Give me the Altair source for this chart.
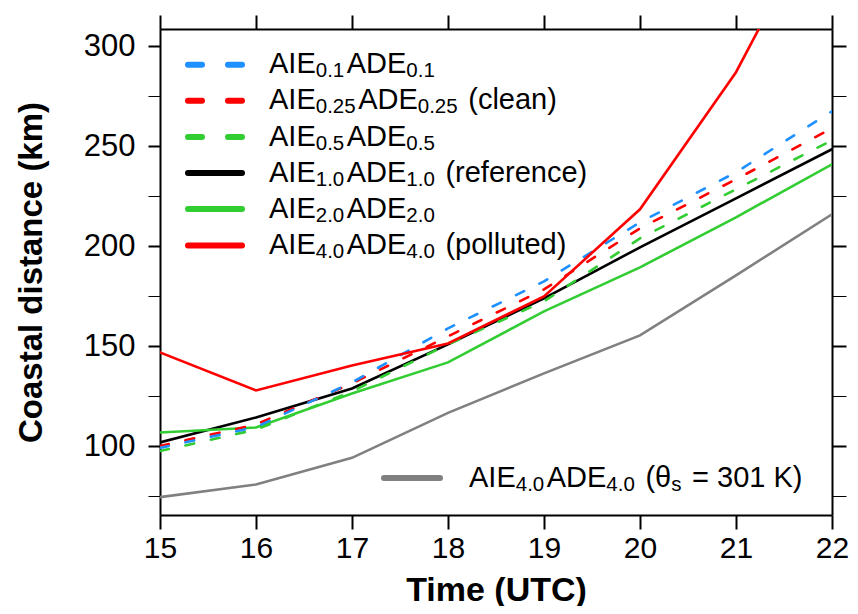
import altair as alt
import pandas as pd

# ---------------- data ----------------
hours = [15, 16, 17, 18, 19, 20, 21, 22]
aie01 = [99.3, 109.7, 132.0, 159.0, 182.5, 212.0, 237.0, 267.5]
aie025 = [100.2, 111.0, 131.5, 155.0, 178.5, 209.0, 233.5, 259.0]
aie05 = [97.7, 108.4, 127.5, 151.0, 172.5, 204.0, 228.5, 253.0]
aie10 = [102.0, 114.5, 129.0, 151.0, 174.0, 199.5, 224.0, 248.5]
aie20 = [107.0, 109.5, 126.5, 142.0, 167.5, 189.5, 214.5, 241.0]
aie40 = [147.0, 128.0, 140.5, 151.5, 175.0, 218.5, 287.0, 378.0]
aie40_301 = [74.7, 81.0, 94.3, 116.8, 136.5, 155.5, 185.5, 216.0]

y_ticks = [75, 100, 125, 150, 175, 200, 225, 250, 275, 300]

# ---------------- layout ----------------
W, H = 672, 486
XDOM = [15, 22]
YDOM = [65.75, 308.6]
FONT = "Liberation Sans"


def px2x(px):
    return XDOM[0] + px / W * (XDOM[1] - XDOM[0])


def py2y(py):
    return YDOM[1] - py / H * (YDOM[1] - YDOM[0])


ARIAL = {'A': .667, 'I': .278, 'E': .667, 'D': .722, '.': .278, ' ': .278,
         '(': .333, ')': .333, 'c': .5, 'l': .222, 'e': .556, 'a': .556,
         'n': .556, 'r': .333, 'f': .278, 'p': .556, 'o': .556, 'u': .556,
         't': .278, 'd': .556, '=': .584, 'K': .667, 'θ': .556, 's': .5}
for d in "0123456789":
    ARIAL[d] = .556


def tw(s, size):
    return sum(ARIAL.get(c, .556) for c in s) * size


MAIN, SUB, SUB_GAP = 29, 20.5, 2.5


def piece_rows(parts, x0, yrow):
    out = []
    x = x0
    for text, sub in parts:
        fs = SUB if sub else MAIN
        lead = len(text) - len(text.lstrip(" "))
        x += lead * ARIAL[' '] * fs
        t = text.lstrip(" ")
        out.append({"x": px2x(x), "y": py2y(yrow + (12.5 if sub else 8.5)),
                    "t": t, "fs": fs})
        x += tw(t, fs) + (SUB_GAP if sub else 0)
    return out


series = [
    dict(v=aie40_301, color="#808080", dash=None,
         parts=[("AIE", 0), ("4.0", 1), ("ADE", 0), ("4.0", 1), (" (θ", 0), ("s", 1), (" = 301 K)", 0)]),
    dict(v=aie10, color="#000000", dash=None,
         parts=[("AIE", 0), ("1.0", 1), ("ADE", 0), ("1.0", 1), (" (reference)", 0)]),
    dict(v=aie20, color="#32CD32", dash=None,
         parts=[("AIE", 0), ("2.0", 1), ("ADE", 0), ("2.0", 1)]),
    dict(v=aie05, color="#32CD32", dash=[9, 17],
         parts=[("AIE", 0), ("0.5", 1), ("ADE", 0), ("0.5", 1)]),
    dict(v=aie025, color="#FF0000", dash=[9, 17],
         parts=[("AIE", 0), ("0.25", 1), ("ADE", 0), ("0.25", 1), (" (clean)", 0)]),
    dict(v=aie01, color="#1E90FF", dash=[9, 17],
         parts=[("AIE", 0), ("0.1", 1), ("ADE", 0), ("0.1", 1)]),
    dict(v=aie40, color="#FF0000", dash=None,
         parts=[("AIE", 0), ("4.0", 1), ("ADE", 0), ("4.0", 1), (" (polluted)", 0)]),
]
# legend row (pixel offset from plot top) for each series, in order above
legend_row = [449, 144, 180, 108, 71.7, 35.7, 216.4]

xscale = alt.Scale(domain=XDOM, nice=False, zero=False)
yscale = alt.Scale(domain=YDOM, nice=False, zero=False)

tickw = {"condition": {"test": "datum.value % 50 === 0", "value": 2}, "value": 1}

ax_bottom = alt.Axis(orient="bottom", values=hours, tickSize=14, tickWidth=2,
                     tickColor="black", domainColor="black", domainWidth=2,
                     labelFont=FONT, labelFontSize=30, labelColor="black",
                     labelPadding=4, labelFlush=False, labelOverlap=False,
                     grid=False, title="Time (UTC)", titleFont=FONT,
                     titleFontSize=34, titleFontWeight="bold", titleColor="black",
                     titlePadding=10)
ax_left = alt.Axis(orient="left", values=y_ticks, tickSize=12, tickWidth=tickw,
                   tickColor="black", domainColor="black", domainWidth=2,
                   labelFont=FONT, labelFontSize=31, labelColor="black",
                   labelPadding=13, labelFlush=False, labelOverlap=False,
                   labelExpr="datum.value % 50 === 0 ? datum.label : ''",
                   grid=False, title="Coastal distance (km)", titleFont=FONT,
                   titleFontSize=33, titleFontWeight="bold", titleColor="black",
                   titlePadding=35)
ax_top = alt.Axis(orient="top", values=hours, tickSize=14, tickWidth=2,
                  tickColor="black", domainColor="black", domainWidth=2,
                  labels=False, grid=False, title="")
ax_right = alt.Axis(orient="right", values=y_ticks, tickSize=14, tickWidth=tickw,
                    tickColor="black", domainColor="black", domainWidth=2,
                    labels=False, grid=False, title="")

layers = []
for i, s in enumerate(series):
    df = pd.DataFrame({"hour": hours, "value": s["v"]})
    mk = dict(color=s["color"], strokeWidth=2.6, clip=True, strokeCap="round")
    if s["dash"]:
        mk["strokeDash"] = s["dash"]
    if i == 0:
        xa, ya = ax_top, ax_right
    elif i == 1:
        xa, ya = ax_bottom, ax_left
    else:
        xa, ya = None, None
    xenc = alt.X("hour:Q", scale=xscale, axis=xa) if xa else alt.X("hour:Q", scale=xscale, axis=None)
    yenc = alt.Y("value:Q", scale=yscale, axis=ya) if ya else alt.Y("value:Q", scale=yscale, axis=None)
    layers.append(alt.Chart(df).mark_line(**mk).encode(x=xenc, y=yenc))

# legend samples
leg_layers = []
text_rows = []
for i, s in enumerate(series):
    yrow = legend_row[i]
    if i == 0:
        x1, x2, xt = 224, 280, 309
    else:
        x1, x2, xt = 28, 82, 109
    ldf = pd.DataFrame({"x": [px2x(x1)], "x2": [px2x(x2)], "y": [py2y(yrow)]})
    mk = dict(color=s["color"], strokeWidth=6, strokeCap="round")
    if s["dash"]:
        mk["strokeDash"] = [14, 26]
    leg_layers.append(alt.Chart(ldf).mark_rule(**mk).encode(
        x=alt.X("x:Q", scale=xscale, axis=None), x2="x2:Q",
        y=alt.Y("y:Q", scale=yscale, axis=None)))
    text_rows += piece_rows(s["parts"], xt, yrow)

tdf = pd.DataFrame(text_rows)
text_layer = alt.Chart(tdf).mark_text(align="left", baseline="alphabetic",
                                      font=FONT, color="black").encode(
    x=alt.X("x:Q", scale=xscale, axis=None),
    y=alt.Y("y:Q", scale=yscale, axis=None),
    text="t:N",
    size=alt.Size("fs:Q", scale=None),
)

chart = alt.layer(*layers, *leg_layers, text_layer).resolve_axis(
    x="independent", y="independent"
).properties(
    width=W, height=H,
    autosize=alt.AutoSizeParams(type="none"),
    padding={"left": 152, "top": 21, "right": 18, "bottom": 91},
    background="white",
).configure_view(strokeWidth=0)

chart.save("out.html", embed_options={"renderer": "svg", "actions": False})
